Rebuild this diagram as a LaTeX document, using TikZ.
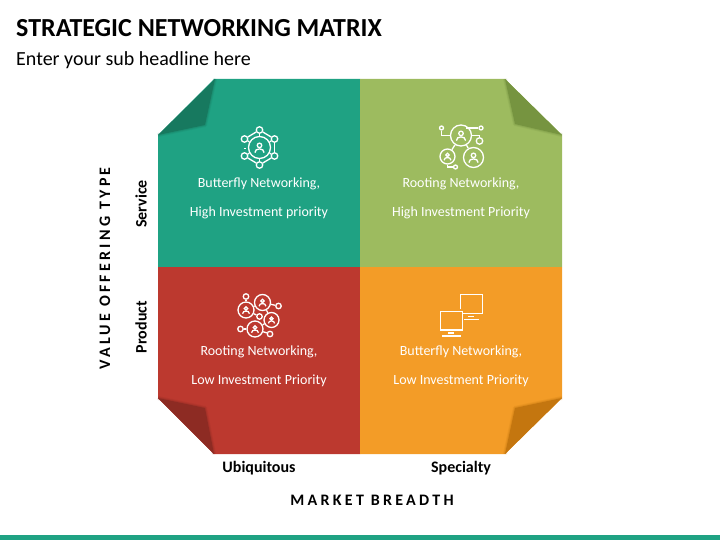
\documentclass[tikz,border=0pt]{standalone}
\usepackage{fontspec}
\setmainfont{Carlito}
\newfontfamily\widefont[LetterSpace=20.5]{Carlito}
\usetikzlibrary{positioning}
\definecolor{teal}{HTML}{1FA283}
\definecolor{tealdk}{HTML}{17795F}
\definecolor{leaf}{HTML}{9DBB5F}
\definecolor{leafdk}{HTML}{769440}
\definecolor{brick}{HTML}{BC392F}
\definecolor{brickdk}{HTML}{8D2B23}
\definecolor{amber}{HTML}{F39C27}
\definecolor{amberdk}{HTML}{C4760F}
\newcommand{\personmark}[3]{%
  \begin{scope}[shift={(#1,#2)},scale=#3]
    \draw[icon] (0,-0.28) circle (0.3);
    \draw[icon] (-0.62,0.68) .. controls (-0.62,0.02) and (0.62,0.02) .. (0.62,0.68);
  \end{scope}}
\newcommand{\foldcorner}[4]{%
  \draw[#4,opacity=0.18,line width=4pt,line join=round] #1 -- #2 -- #3;
  \draw[#4,opacity=0.3,line width=2pt,line join=round] #1 -- #2 -- #3;
  \fill[#4] #1 -- #2 -- #3 -- cycle;}
\begin{document}
\begin{tikzpicture}[x=1pt,y=-1pt,every node/.style={font=\fontsize{14}{16}\selectfont}]
      \tikzstyle{icon}=[draw=white,line width=1.3pt,fill=none];
      \tikzstyle{cell}=[text=white,inner sep=0pt];
      \tikzstyle{axis}=[inner sep=0pt,font=\fontsize{16}{18}\selectfont\bfseries];
      \tikzstyle{spaced}=[inner sep=0pt,font=\fontsize{16}{18}\selectfont\widefont\bfseries];
      \tikzstyle{dot}=[circle,icon,inner sep=0pt,minimum size=5.5pt];
      \tikzstyle{tiny}=[circle,icon,inner sep=0pt,minimum size=4pt];
      \tikzstyle{ring}=[circle,icon,inner sep=0pt,minimum size=16pt];
      \useasboundingbox (0,0) rectangle (720,540);
      \fill[teal] (0,535) rectangle (720,540);
      % titles
      \node[anchor=base west,inner sep=0pt,font=\fontsize{26}{30}\selectfont\bfseries] (title) at (16,36.5) {STRATEGIC NETWORKING MATRIX};
      \node[anchor=base west,inner sep=0pt,font=\fontsize{20}{24}\selectfont] (sub) at (16,66) {Enter your sub headline here};
      % quadrants
      \fill[teal]  (214,79) -- (360,79) -- (360,267) -- (158,267) -- (158,135) -- cycle;
      \fill[leaf]  (360,79) -- (505,79) -- (562,135) -- (562,267) -- (360,267) -- cycle;
      \fill[brick] (158,267) -- (360,267) -- (360,454) -- (214,454) -- (158,398) -- cycle;
      \fill[amber] (360,267) -- (562,267) -- (562,398) -- (505,454) -- (360,454) -- cycle;
      \foldcorner{(215,79)}{(205,125)}{(158,135)}{tealdk}
      \foldcorner{(505,79)}{(515,124)}{(562,135)}{leafdk}
      \foldcorner{(158,398)}{(205,408)}{(214,454)}{brickdk}
      \foldcorner{(562,398)}{(515,408)}{(505,454)}{amberdk}
      % cell texts
      \node[cell] (t1a) at (259,184) {Butterfly Networking,};
      \node[cell] (t1b) at (259,213) {High Investment priority};
      \node[cell] (t2a) at (461,184) {Rooting Networking,};
      \node[cell] (t2b) at (461,213) {High Investment Priority};
      \node[cell] (t3a) at (259,352) {Rooting Networking,};
      \node[cell] (t3b) at (259,381) {Low Investment Priority};
      \node[cell] (t4a) at (461,352) {Butterfly Networking,};
      \node[cell] (t4b) at (461,381) {Low Investment Priority};
      % axis labels
      \node[axis,rotate=90] (service) at (141,204) {Service};
      \node[axis,rotate=90] (product) at (141,327) {Product};
      \node[axis] (ubiq) at (259,468) {Ubiquitous};
      \node[axis] (spec) at (461,468) {Specialty};
      \node[spaced,rotate=90] (valuetype) at (105,268.5) {VALUE OFFERING TYPE};
      \node[spaced] (breadth) at (372,500) {MARKET BREADTH};
      % teal icon
      \node[circle,icon,inner sep=0pt,minimum size=22pt] (hub) at (259.5,147.5) {};
      \personmark{259.5}{147.5}{7.5}
      \node[dot,minimum size=6.5pt] (h1) at (259.5,130) {};
      \node[dot,minimum size=6.5pt] (h2) at (274.5,139) {};
      \node[dot,minimum size=6.5pt] (h3) at (274.5,156) {};
      \node[dot,minimum size=6.5pt] (h4) at (259.5,165) {};
      \node[dot,minimum size=6.5pt] (h5) at (244.5,156) {};
      \node[dot,minimum size=6.5pt] (h6) at (244.5,139) {};
      \foreach \a/\b in {h1/h2,h2/h3,h3/h4,h4/h5,h6/h1,h1/hub,h2/hub,h3/hub,h4/hub,h5/hub,h6/hub}
        \draw[icon] (\a) -- (\b);
      \draw[icon,line width=0.8pt] (243.8,148) -- (245.6,148);
      % green icon
      \node[ring,minimum size=21pt] (g1) at (461,135.5) {};
      \node[ring,minimum size=15pt] (g2) at (447.5,156.5) {};
      \node[ring,minimum size=20pt] (g3) at (473.5,157.5) {};
      \personmark{461}{135.5}{7.5}
      \personmark{447.5}{156.5}{5.5}
      \personmark{473.5}{157.5}{7.5}
      \node[tiny] (g4) at (441.5,128) {};
      \node[tiny] (g5) at (481,128) {};
      \node[dot,minimum size=6.5pt] (g6) at (479.5,141) {};
      \node[tiny] (g7) at (455.5,167) {};
      \draw[icon] (g1) -- (g2);
      \draw[icon] (g1) -- (g3);
      \draw[icon] (g4) |- (g1);
      \draw[icon] (g5) -| (466.5,127);
      \draw[icon] (g6) |- (g1.east);
      \draw[icon] (g2) |- (g7);
      % red icon
      \node[ring] (r1) at (262.5,302.5) {};
      \node[ring] (r2) at (246,310) {};
      \node[ring,minimum size=15pt] (r3) at (271.5,320) {};
      \node[ring] (r4) at (255,329) {};
      \personmark{262.5}{302.5}{5.5}
      \personmark{246}{310}{5.5}
      \personmark{271.5}{320}{5}
      \personmark{255}{329}{5.5}
      \node[dot] (r5) at (246,296.5) {};
      \node[dot] (r6) at (278.5,306) {};
      \node[dot] (r7) at (259.5,316.5) {};
      \node[dot] (r8) at (240.5,329) {};
      \node[dot] (r9) at (270,334) {};
      \foreach \a/\b in {r2/r5,r1/r6,r2/r7,r4/r8,r4/r9,r1/r2,r1/r3,r3/r4}
        \draw[icon] (\a) -- (\b);
      % orange icon
      \draw[icon] (460.7,309) |- (482.3,294.5) -- (482.3,313.3) -- (463,313.3);
      \draw[icon] (468.3,316.3) -- (474,316.3);
      \draw[icon] (464,319.3) -- (479.3,319.3);
      \draw[icon,line width=1.5pt] (440.7,311.7) rectangle (462.3,330);
      \draw[icon,line width=1.7pt] (448.3,332.7) -- (454,332.7);
      \draw[icon,line width=1.9pt] (442.3,335.7) -- (460.7,335.7);
    \end{tikzpicture}
\end{document}
